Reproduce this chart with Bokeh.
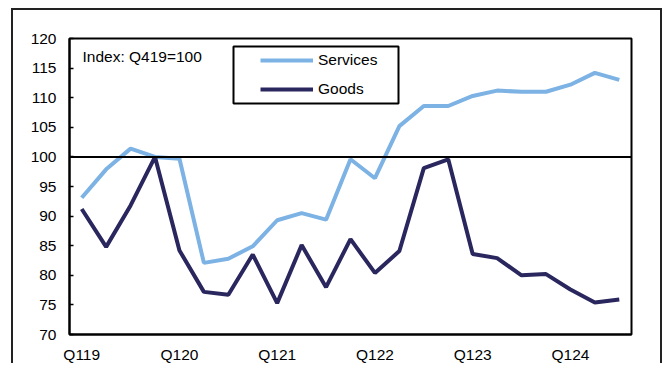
from bokeh.plotting import figure
from bokeh.models import (Span, Legend, LegendItem, BoxAnnotation, Label, FactorRange,
                          CustomJSTickFormatter)
from bokeh.embed import file_html
from bokeh.resources import INLINE

quarters = ["Q119", "Q219", "Q319", "Q419",
            "Q120", "Q220", "Q320", "Q420",
            "Q121", "Q221", "Q321", "Q421",
            "Q122", "Q222", "Q322", "Q422",
            "Q123", "Q223", "Q323", "Q423",
            "Q124", "Q224", "Q324"]
services = [93.1, 97.9, 101.4, 100.0,
            99.7, 82.1, 82.8, 84.9,
            89.3, 90.5, 89.4, 99.6,
            96.4, 105.2, 108.6, 108.6,
            110.3, 111.2, 111.0, 111.0,
            112.2, 114.2, 113.0]
goods = [91.2, 84.8, 91.8, 100.0,
         84.2, 77.2, 76.7, 83.5,
         75.3, 85.1, 78.0, 86.1,
         80.4, 84.1, 98.1, 99.6,
         83.6, 82.9, 80.0, 80.2,
         77.6, 75.4, 75.9]
x_labels = ["Q119", "Q120", "Q121", "Q122", "Q123", "Q124"]
y_ticks = [70, 75, 80, 85, 90, 95, 100, 105, 110, 115, 120]
index_note = "Index: Q419=100"

FONT = "Liberation Sans"
FS = "15.5px"
SERV_C = "#7DB2E4"
GOODS_C = "#2A275E"

p = figure(x_range=FactorRange(*quarters), y_range=(70, 120),
           width=651, height=355, output_backend="svg", toolbar_location=None,
           min_border_left=56, min_border_right=33, min_border_top=28, min_border_bottom=0)
p.grid.visible = False
p.background_fill_color = "white"
p.border_fill_color = "white"
p.outline_line_color = "black"
p.outline_line_width = 2

p.yaxis.ticker = y_ticks
p.yaxis.axis_line_color = "black"
p.yaxis.axis_line_width = 2
p.yaxis.major_tick_line_color = "black"
p.yaxis.major_tick_line_width = 1.5
p.yaxis.major_tick_in = 4
p.yaxis.major_tick_out = 0
p.yaxis.minor_tick_line_color = None
p.yaxis.major_label_standoff = 13
p.yaxis.major_label_text_font = FONT
p.yaxis.major_label_text_font_size = FS
p.yaxis.major_label_text_color = "black"

p.xaxis.axis_line_color = "black"
p.xaxis.axis_line_width = 2
p.xaxis.major_tick_line_color = None
p.xaxis.minor_tick_line_color = None
p.xaxis.major_tick_out = 0
p.xaxis.major_tick_in = 0
p.xaxis.major_label_standoff = 11
p.xaxis.major_label_text_font = FONT
p.xaxis.major_label_text_font_size = FS
p.xaxis.major_label_text_color = "black"
p.xaxis.formatter = CustomJSTickFormatter(args=dict(show=x_labels),
                                          code="return show.includes(tick) ? tick : '';")

p.add_layout(Span(location=100, dimension="width", line_color="black", line_width=2))

r_s = p.line(quarters, services, line_color=SERV_C, line_width=4)
r_g = p.line(quarters, goods, line_color=GOODS_C, line_width=4)

legend = Legend(items=[LegendItem(label="Services", renderers=[r_s]),
                       LegendItem(label="Goods", renderers=[r_g])],
                location=(191, 235), padding=0, margin=0, spacing=9,
                glyph_width=53, glyph_height=20, label_height=20, label_standoff=5,
                border_line_alpha=0, background_fill_alpha=0,
                label_text_font=FONT, label_text_font_size=FS, label_text_color="black")
p.add_layout(legend)

p.add_layout(BoxAnnotation(left=164, right=329, top=288, bottom=231,
                           left_units="screen", right_units="screen",
                           top_units="screen", bottom_units="screen",
                           fill_alpha=0, line_color="black", line_alpha=1, line_width=2))

p.add_layout(Label(x=13, y=278, x_units="screen", y_units="screen", text=index_note,
                   text_baseline="middle", text_font=FONT, text_font_size=FS,
                   text_color="black"))

p.styles = {"border-top": "2px solid #222", "border-left": "2px solid #222",
            "border-right": "2px solid #222", "margin-left": "11px", "margin-top": "8px"}

html = file_html(p, INLINE)
html = html.replace("<body>", '<body style="margin:0;background:white">', 1)
open("out.html", "w").write(html)
